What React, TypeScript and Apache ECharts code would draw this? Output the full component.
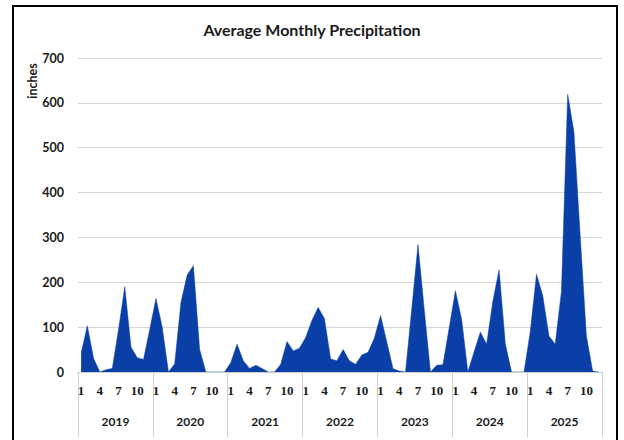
import React, { useEffect, useRef } from "react";
import * as echarts from "echarts";

const years = ["2019", "2020", "2021", "2022", "2023", "2024", "2025"];
const months = [1, 2, 3, 4, 5, 6, 7, 8, 9, 10, 11, 12];
const v2019 = [42, 103, 30, 0, 5, 8, 95, 190, 55, 32, 28, 95];
const v2020 = [164, 100, 0, 18, 155, 216, 237, 50, 0, 0, 0, 0];
const v2021 = [21, 62, 25, 8, 15, 8, 0, 0, 17, 68, 47, 53];
const v2022 = [77, 115, 144, 119, 29, 25, 50, 25, 17, 38, 44, 75];
const v2023 = [126, 67, 7, 2, 0, 140, 284, 140, 0, 15, 16, 98];
const v2024 = [181, 117, 0, 45, 89, 62, 157, 228, 63, 0, 0, 0];
const v2025 = [90, 218, 170, 80, 62, 180, 619, 535, 305, 80, 2, 0];
const yTicks = [0, 100, 200, 300, 400, 500, 600, 700];

export default function App() {
  const ref = useRef<HTMLDivElement>(null);
  useEffect(() => {
    if (!ref.current) return;
    const chart = echarts.init(ref.current, null, { renderer: "svg" });
    const allValues = [v2019, v2020, v2021, v2022, v2023, v2024, v2025].flat();
    const monthCats: string[] = [];
    years.forEach((y) => months.forEach((m) => monthCats.push(y + "-" + m)));
    chart.setOption({
      animation: false,
      backgroundColor: "#ffffff",
      title: {
        text: "Average Monthly Precipitation",
        left: "center",
        top: 16,
        textStyle: { fontFamily: "Lato", fontWeight: "bold", fontSize: 16, color: "#1a1a1a" },
      },
      grid: { left: 78, right: 22, top: 58, bottom: 68, containLabel: false },
      xAxis: [
        {
          type: "category",
          data: monthCats,
          boundaryGap: true,
          position: "bottom",
          axisLine: { show: true, lineStyle: { color: "#cfcfcf", width: 1 } },
          axisTick: { show: false },
          axisLabel: {
            interval: (i: number) => i % 3 === 0,
            formatter: (v: string) => v.split("-")[1],
            margin: 12,
            fontFamily: "Liberation Serif",
            fontWeight: "bold",
            fontSize: 13,
            color: "#1a1a1a",
          },
          splitLine: { show: false },
        },
        {
          type: "category",
          data: years,
          boundaryGap: true,
          position: "bottom",
          offset: 0,
          axisLine: { show: false },
          axisTick: { show: true, length: 65, interval: 0, lineStyle: { color: "#cfcfcf", width: 1 } },
          axisLabel: {
            interval: 0,
            margin: 43,
            fontFamily: "Lato",
            fontWeight: "bold",
            fontSize: 12,
            color: "#1a1a1a",
          },
          splitLine: { show: false },
        },
      ],
      yAxis: {
        type: "value",
        min: yTicks[0],
        max: yTicks[yTicks.length - 1],
        interval: 100,
        axisLine: { show: false },
        axisTick: { show: false },
        axisLabel: {
          margin: 14,
          fontFamily: "Lato",
          fontWeight: "bold",
          fontSize: 12.5,
          color: "#1a1a1a",
        },
        splitLine: { show: true, lineStyle: { color: "#d6d6d6", width: 1 } },
      },
      series: [
        {
          type: "line",
          xAxisIndex: 0,
          data: allValues,
          symbol: "none",
          lineStyle: { width: 0.5, color: "#0a3fa8" },
          areaStyle: { color: "#0a3fa8", opacity: 1 },
        },
      ],
      graphic: [
        {
          type: "text",
          x: 32,
          y: 81,
          rotation: Math.PI / 2,
          style: {
            text: "inches",
            fontFamily: "Lato",
            fontWeight: "bold",
            fontSize: 12.5,
            fill: "#1a1a1a",
            align: "center",
            verticalAlign: "middle",
          },
        },
        {
          type: "rect",
          shape: { x: 13, y: 6, width: 604, height: 450 },
          style: { fill: "none", stroke: "#000000", lineWidth: 2 },
          silent: true,
        },
      ],
    });
    return () => chart.dispose();
  }, []);
  return (
    <div
      ref={ref}
      style={{ position: "fixed", left: 0, top: 0, width: 624, height: 440 }}
    />
  );
}
